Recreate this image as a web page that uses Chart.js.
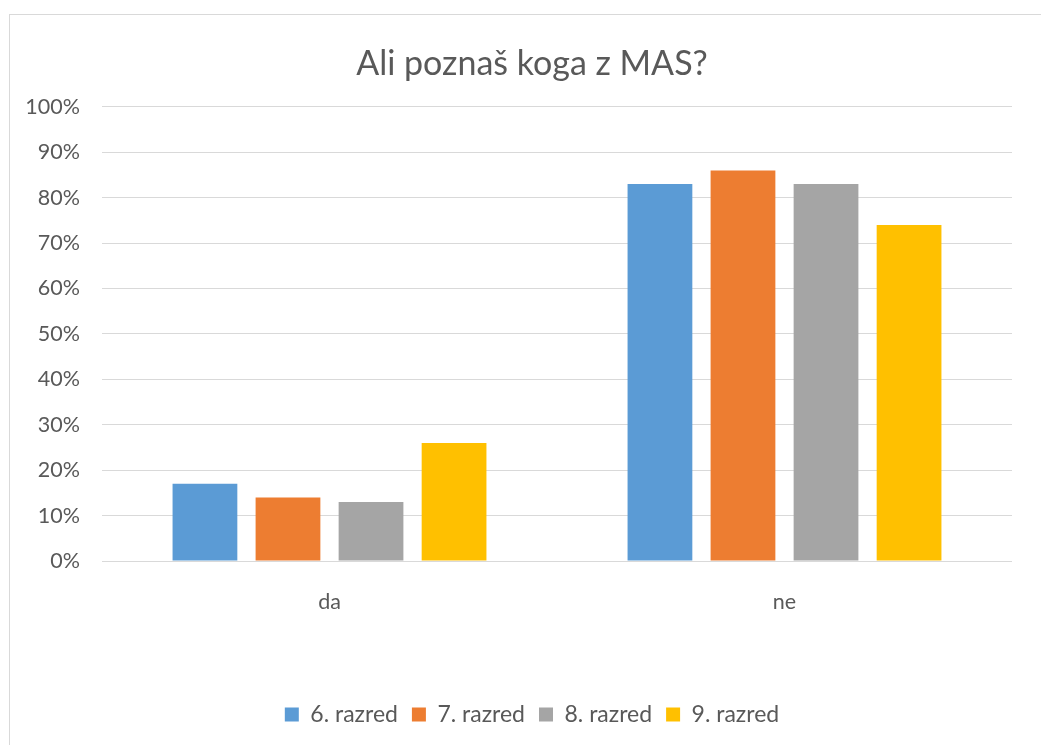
<!DOCTYPE html>
<html>
<head>
<meta charset="utf-8">
<script src="https://cdn.jsdelivr.net/npm/chart.js@4.4.1/dist/chart.umd.min.js"></script>
<style>
  html, body { margin: 0; padding: 0; background: #fff; overflow: hidden; }
  #okvir {
    position: absolute; left: 9px; top: 14px;
    width: 1044px; height: 740px;
    border: 1px solid #d9d9d9;
  }
  #okvir canvas { display: block; }
</style>
</head>
<body>
<div id="okvir"><canvas id="graf" width="1044" height="740"></canvas></div>
<script>
// podatki
const kategorije = ['da', 'ne'];
const razredi = ['6. razred', '7. razred', '8. razred', '9. razred'];
const razred6 = [17, 83];
const razred7 = [14, 86];
const razred8 = [13, 83];
const razred9 = [26, 74];
const barve = ['#5B9BD5', '#ED7D31', '#A5A5A5', '#FFC000'];

const tekst = '#595959';
const mreza = '#d9d9d9';
const pisava = 'Lato, "Open Sans", sans-serif';

const vrednosti = [razred6, razred7, razred8, razred9];

new Chart(document.getElementById('graf'), {
  type: 'bar',
  data: {
    labels: kategorije,
    datasets: razredi.map((ime, i) => ({
      label: ime,
      data: vrednosti[i],
      backgroundColor: barve[i],
      categoryPercentage: 0.73,
      barPercentage: 0.78
    }))
  },
  options: {
    responsive: false,
    animation: false,
    layout: { padding: { left: 0, right: 0, top: 0, bottom: 19 } },
    plugins: {
      title: {
        display: true,
        text: 'Ali poznaš koga z MAS?',
        color: tekst,
        font: { family: pisava, size: 34, weight: 'normal' },
        padding: { top: 29, bottom: 22 }
      },
      legend: {
        position: 'bottom',
        labels: {
          color: tekst,
          font: { family: pisava, size: 23 },
          boxWidth: 14,
          boxHeight: 14,
          padding: 14
        }
      },
      tooltip: { enabled: false }
    },
    scales: {
      x: {
        grid: { display: false },
        border: { display: false },
        ticks: { color: tekst, font: { family: pisava, size: 21.5 }, padding: 20 },
        afterFit: s => { s.height = 128; }
      },
      y: {
        min: 0,
        max: 100,
        ticks: {
          stepSize: 10,
          color: tekst,
          font: { family: pisava, size: 21.5 },
          padding: 22,
          callback: v => v + '%'
        },
        grid: { color: mreza, lineWidth: 1, drawTicks: false },
        border: { display: false },
        afterFit: s => { s.width = 92; }
      },
      // prazna desna os, samo za rob desno od risbe
      desno: {
        position: 'right',
        min: 0,
        max: 100,
        grid: { display: false },
        border: { display: false },
        ticks: { display: false },
        afterFit: s => { s.width = 42; }
      }
    }
  }
});
</script>
</body>
</html>
